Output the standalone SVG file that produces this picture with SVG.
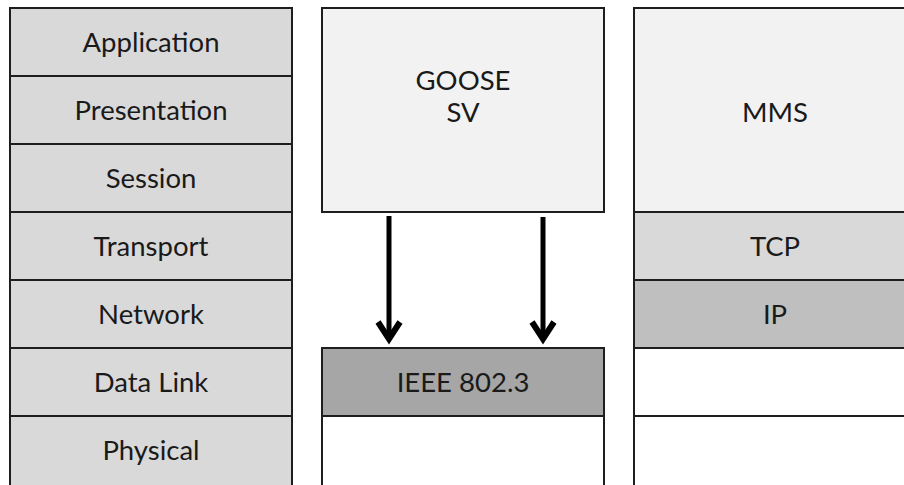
<svg xmlns="http://www.w3.org/2000/svg" width="904" height="485" viewBox="0 0 904 485">
  <style>
    .cell { stroke: #1e1e1e; stroke-width: 2; }
    .osi { fill: #d9d9d9; }
    .light { fill: #f2f2f2; }
    .mid { fill: #d9d9d9; }
    .dark { fill: #bfbfbf; }
    .darker { fill: #a6a6a6; }
    .empty { fill: #ffffff; }
    text { font-family: "Lato", "Liberation Sans", sans-serif; font-size: 27.5px; fill: #1a1a1a; text-anchor: middle; }
    .arrow { stroke: #000; stroke-width: 5; fill: none; stroke-linejoin: miter; }
    .head { stroke: #000; stroke-width: 6; fill: none; stroke-linejoin: miter; stroke-miterlimit: 6; }
  </style>
  <rect width="904" height="485" fill="#ffffff"/>

  <!-- OSI reference layers -->
  <g id="application"><rect class="cell osi" x="10" y="8" width="282" height="68"/><text x="151" y="52">Application</text></g>
  <g id="presentation"><rect class="cell osi" x="10" y="76" width="282" height="68"/><text x="151" y="120">Presentation</text></g>
  <g id="session"><rect class="cell osi" x="10" y="144" width="282" height="68"/><text x="151" y="188">Session</text></g>
  <g id="transport"><rect class="cell osi" x="10" y="212" width="282" height="68"/><text x="151" y="256">Transport</text></g>
  <g id="network"><rect class="cell osi" x="10" y="280" width="282" height="68"/><text x="151" y="324">Network</text></g>
  <g id="datalink"><rect class="cell osi" x="10" y="348" width="282" height="68"/><text x="151" y="392">Data Link</text></g>
  <g id="physical"><rect class="cell osi" x="10" y="416" width="282" height="70"/><text x="151" y="460">Physical</text></g>

  <!-- GOOSE / SV stack -->
  <g id="goose-sv"><rect class="cell light" x="322" y="8" width="282" height="204"/><text x="463" y="90">GOOSE</text><text x="463" y="122">SV</text></g>
  <g id="ieee8023"><rect class="cell darker" x="322" y="348" width="282" height="68"/><text x="463" y="392">IEEE 802.3</text></g>
  <g id="goose-phy"><rect class="cell empty" x="322" y="416" width="282" height="70"/></g>

  <!-- MMS stack -->
  <g id="mms"><rect class="cell light" x="634" y="8" width="282" height="204"/><text x="775" y="122">MMS</text></g>
  <g id="tcp"><rect class="cell mid" x="634" y="212" width="282" height="68"/><text x="775" y="256">TCP</text></g>
  <g id="ip"><rect class="cell dark" x="634" y="280" width="282" height="68"/><text x="775" y="324">IP</text></g>
  <g id="mms-link"><rect class="cell empty" x="634" y="348" width="282" height="68"/></g>
  <g id="mms-phy"><rect class="cell empty" x="634" y="416" width="282" height="70"/></g>

  <!-- connectors: shaft plus open chevron head -->
  <g id="connectors">
    <line class="arrow" x1="389" y1="216" x2="389" y2="338"/>
    <polyline class="head" points="378,322 389,339 400,322"/>
    <line class="arrow" x1="543" y1="217" x2="543" y2="338"/>
    <polyline class="head" points="532,322 543,339 554,322"/>
  </g>
</svg>
